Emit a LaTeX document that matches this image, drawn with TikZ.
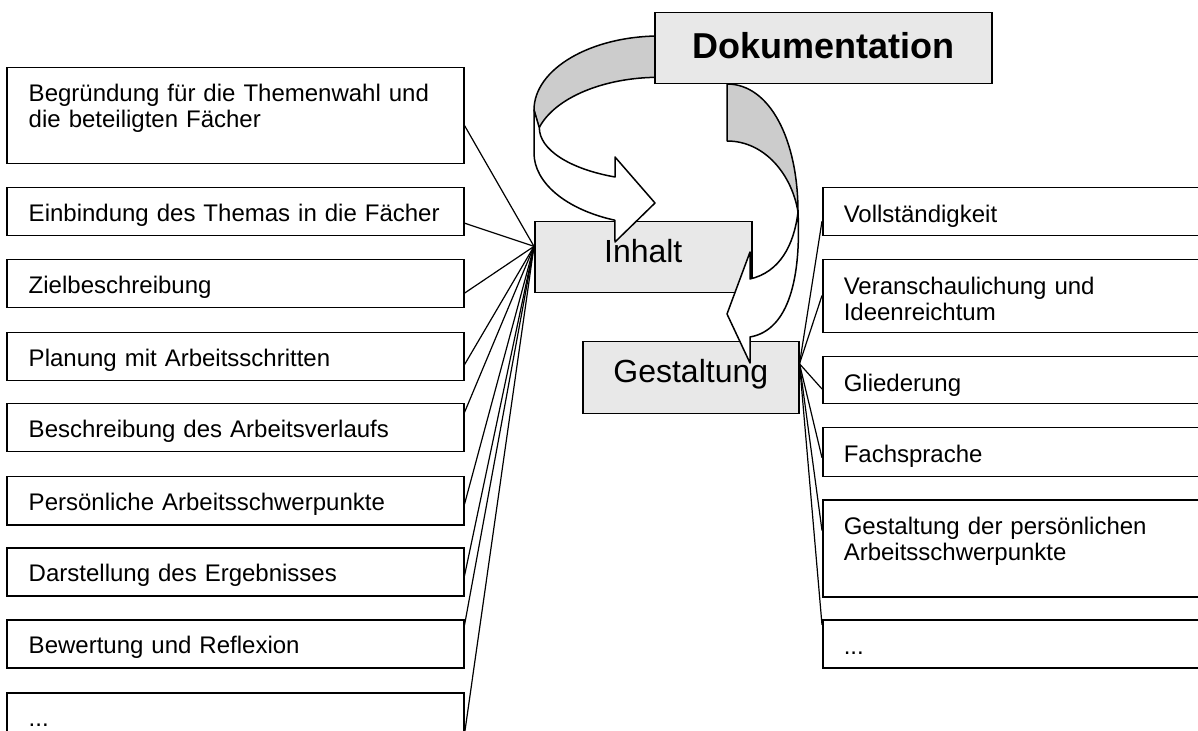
\documentclass[tikz,border=0pt]{standalone}
\usepackage{fontspec}
\setmainfont{Liberation Sans}
\usetikzlibrary{calc}

\begin{document}
\begin{tikzpicture}[x=0.5pt, y=-0.5pt,
        item/.style={draw, line width=0.75pt, fill=white, anchor=north west,
            inner xsep=11pt, inner ysep=0pt, text width=206.5pt, align=left,
            text height=17pt, text depth=7pt,
            font=\fontsize{12}{13}\selectfont},
        crit/.style={item, inner xsep=10.5pt, text width=194pt,
            text height=17.5pt, text depth=6.5pt},
        part/.style={draw, line width=0.75pt, fill=black!9, anchor=north west,
            inner sep=0pt, minimum width=108.5pt,
            text height=20.5pt, text depth=15pt,
            font=\fontsize{16}{19}\selectfont},
        ribbon/.style={draw, line width=0.75pt, line join=round},
        link/.style={line width=0.6pt}]
        % Canvas
        \path[use as bounding box, clip] (0,0) rectangle (1198,731);

        % Back sides of the two bent arrows
        \filldraw[ribbon, fill=black!20] (660,36)
            arc[start angle=270, end angle=180, x radius=126, y radius=74]
            -- (539,128)
            arc[start angle=196, end angle=270, x radius=125, y radius=70] -- cycle;
        \filldraw[ribbon, fill=black!20] (727,84)
            .. controls (770,84) and (798,140) .. (798,212)
            .. controls (792,175) and (765,141) .. (727,141) -- cycle;

        % Main topic
        \node[part, minimum width=168.5pt, text height=23pt, text depth=12.5pt,
            font=\fontsize{18}{21}\selectfont\bfseries] (doku) at (654,12) {Dokumentation};

        % Two areas
        \node[part] (inhalt) at (534,221) {Inhalt};
        \node[part, minimum width=108pt, text depth=15.5pt] (gestaltung) at (582,341) {Gestaltung};

        % Front sides of the bent arrows
        \filldraw[ribbon, fill=white] (534,110) -- (534,153)
            arc[start angle=180, end angle=111, x radius=126, y radius=72]
            -- (615,242) -- (655,203) -- (615,157) -- (615,177)
            arc[start angle=112, end angle=180, x radius=121, y radius=53] -- cycle;
        \filldraw[ribbon, fill=white] (798,212)
            .. controls (801,275) and (790,330) .. (750,337)
            -- (750,363) -- (727,314) -- (750,252) -- (750,279)
            .. controls (780,272) and (794,245) .. (798,212) -- cycle;

        % Points for content (left)
        \node[item, text depth=31pt] (b1) at (6,67) {Begründung für die Themenwahl und\\die beteiligten Fächer};
        \node[item] (b2) at (6,187) {Einbindung des Themas in die Fächer};
        \node[item] (b3) at (6,259) {Zielbeschreibung};
        \node[item] (b4) at (6,332) {Planung mit Arbeitsschritten};
        \node[item] (b5) at (6,403) {Beschreibung des Arbeitsverlaufs};
        \node[item] (b6) at (6,476) {Persönliche Arbeitsschwerpunkte};
        \node[item] (b7) at (6,547) {Darstellung des Ergebnisses};
        \node[item] (b8) at (6,619) {Bewertung und Reflexion};
        \node[item] (b9) at (6,692) {...};

        % Points for layout (right)
        \node[crit] (r1) at (822,187) {Vollständigkeit};
        \node[crit, text depth=19pt] (r2) at (822,259) {Veranschaulichung und\\Ideenreichtum};
        \node[crit, text depth=6pt] (r3) at (822,356) {Gliederung};
        \node[crit, text depth=7pt] (r4) at (822,427) {Fachsprache};
        \node[crit, text depth=31pt] (r5) at (822,499) {Gestaltung der persönlichen\\Arbeitsschwerpunkte};
        \node[crit] (r6) at (822,619) {...};

        % Callout lines
        \coordinate (inhaltin) at ($(inhalt.north west)!0.35!(inhalt.south west)$);
        \coordinate (gestout) at ($(gestaltung.north east)!0.31!(gestaltung.south east)$);
        \foreach \n/\f in {b1/0.60, b2/0.73, b3/0.69, b4/0.66, b5/0.19, b6/0.57, b7/0.58, b8/0.125, b9/0.85} {
            \draw[link] ($(\n.north east)!\f!(\n.south east)$) -- (inhaltin);
        }
        \foreach \n/\f in {r1/0.69, r2/0.49, r3/0.68, r4/0.61, r5/0.32, r6/0.12} {
            \draw[link] (gestout) -- ($(\n.north west)!\f!(\n.south west)$);
        }
\end{tikzpicture}
\end{document}
